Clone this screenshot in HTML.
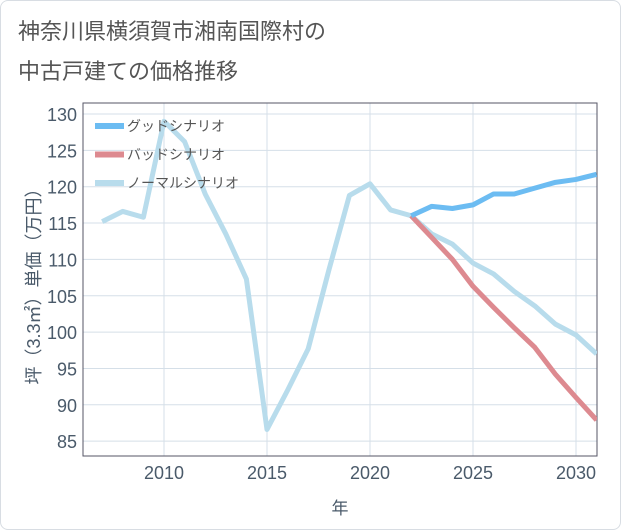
<!DOCTYPE html>
<html><head><meta charset="utf-8"><style>
body{margin:0;background:#fff;font-family:"Liberation Sans","Noto Sans CJK JP",sans-serif;}
#card{position:absolute;left:0;top:0;width:619px;height:528px;border:1px solid #d8dde3;border-radius:8px;background:#fff;}
.t{position:absolute;left:18px;font-size:22px;color:#555;}
</style></head><body>
<div id="card"></div>
<div class="t" style="top:14px">神奈川県横須賀市湘南国際村の</div>
<div class="t" style="top:54px">中古戸建ての価格推移</div>
<svg id="c" width="621" height="530" style="position:absolute;left:0;top:0"></svg>
<script>
const years=[2007,2008,2009,2010,2011,2012,2013,2014,2015,2016,2017,2018,2019,2020,2021,2022,2023,2024,2025,2026,2027,2028,2029,2030,2031];
const normal=[115.2,116.6,115.8,129,126.2,119,113.5,107.3,86.6,92,97.7,108.5,118.8,120.4,116.8,116.0,113.5,112.1,109.5,108,105.6,103.6,101.1,99.6,97];
const goodYears=[2022,2023,2024,2025,2026,2027,2028,2029,2030,2031];
const good=[116.0,117.3,117.0,117.5,119,119,119.8,120.6,121,121.7];
const bad=[116.0,113,110,106.3,103.4,100.6,97.9,94.2,91,87.9];
const yTicks=[85,90,95,100,105,110,115,120,125,130];
const xTicks=[2010,2015,2020,2025,2030];
const L=83,R=597,T=103,B=456;
const x=v=>164+(v-2010)*20.6;
const y=v=>114+(130-v)*7.27;
const svg=document.getElementById('c');
const NS='http://www.w3.org/2000/svg';
function mk(tag,a,p){const e=document.createElementNS(NS,tag);for(const k in a)e.setAttribute(k,a[k]);(p||svg).appendChild(e);return e;}
for(const t of yTicks){
const g=mk('line',{x1:L,x2:R,y1:y(t),y2:y(t),stroke:'#d5dfe8','stroke-width':1});


const tx=mk('text',{x:77,y:y(t)+7,'text-anchor':'end','font-size':18,fill:'#4a5a6a'});
tx.textContent=t;


}
for(const t of xTicks){
const g=mk('line',{x1:x(t),x2:x(t),y1:T,y2:B,stroke:'#d5dfe8','stroke-width':1});


const tx=mk('text',{x:x(t),y:479,'text-anchor':'middle','font-size':18,fill:'#4a5a6a'});
tx.textContent=t;


}
const fr=mk('rect',{x:L,y:T,width:R-L,height:B-T,fill:'none',stroke:'#556','stroke-width':1});


const clip=mk('clipPath',{id:'cp'});mk('rect',{x:L,y:T,width:R-L,height:B-T},clip);
function line(xs,vs,col,name){
const p=mk('polyline',{points:xs.map((v,i)=>x(v)+','+y(vs[i])).join(' '),fill:'none',stroke:col,'stroke-width':5,'stroke-linejoin':'round','clip-path':'url(#cp)'});


}
line(years,normal,'#b8dcec','normal-scenario-line');
line(goodYears,bad,'#dd8a90','bad-scenario-line');
line(goodYears,good,'#6cbcf2','good-scenario-line');
const leg=[['グッドシナリオ','#6cbcf2','legend-good'],['バッドシナリオ','#dd8a90','legend-bad'],['ノーマルシナリオ','#b8dcec','legend-normal']];
leg.forEach((l,i)=>{
const yy=126+i*28.5;
const r=mk('rect',{x:95,y:yy-3,width:29,height:6,fill:l[1]});


const tx=mk('text',{x:127,y:yy+5,'font-size':14,fill:'#555'});
tx.textContent=l[0];


});
const xt=mk('text',{x:340,y:514,'text-anchor':'middle','font-size':17,fill:'#4a5a6a'});
xt.textContent='年';


const yt=mk('text',{x:0,y:0,'text-anchor':'middle','font-size':18,fill:'#4a5a6a',transform:'translate(40,282) rotate(-90)'});
yt.textContent='坪（3.3㎡）単価（万円）';


</script>
</body></html>
